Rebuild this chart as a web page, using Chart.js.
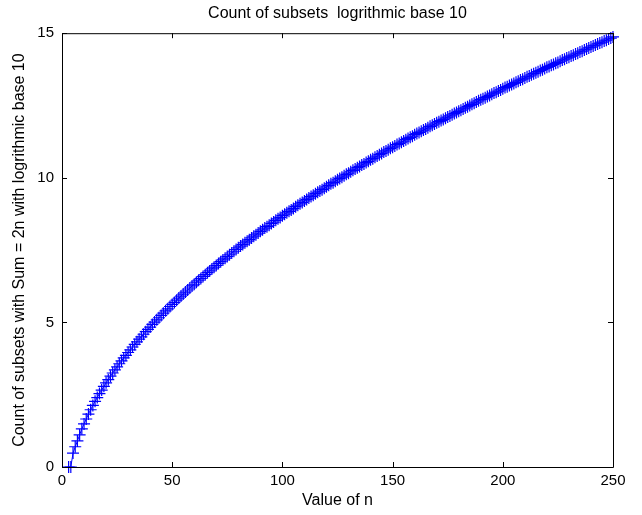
<!DOCTYPE html>
<html lang="en">
<head>
  <meta charset="UTF-8">
  <title>Count of subsets</title>
  <script src="https://cdn.jsdelivr.net/npm/chart.js"></script>
  <style>
    html, body { margin: 0; padding: 0; background: #fff; }
    #chart { display: block; }
  </style>
</head>
<body>
  <canvas id="chart" width="642" height="515"></canvas>

  <script>
    // first n that has at least one subset (log10 of 0 is not plotted)
    const firstN = 3;

    // log10 of the number of subsets of {1..n} with sum 2n, n = 3..250
    const countLog10 = [
      0, 0, 0.48, 0.70, 0.90, 1.11, 1.32, 1.49,
      1.66, 1.83, 1.98, 2.13, 2.27, 2.40, 2.54, 2.66, 2.79, 2.91,
      3.02, 3.14, 3.25, 3.36, 3.46, 3.57, 3.67, 3.77, 3.86, 3.96,
      4.05, 4.15, 4.24, 4.33, 4.42, 4.50, 4.59, 4.68, 4.76, 4.84,
      4.93, 5.01, 5.09, 5.16, 5.24, 5.32, 5.40, 5.47, 5.55, 5.62,
      5.69, 5.77, 5.84, 5.91, 5.98, 6.05, 6.12, 6.19, 6.26, 6.32,
      6.39, 6.46, 6.52, 6.59, 6.65, 6.72, 6.78, 6.85, 6.91, 6.97,
      7.04, 7.10, 7.16, 7.22, 7.28, 7.34, 7.40, 7.46, 7.52, 7.58,
      7.64, 7.69, 7.75, 7.81, 7.86, 7.92, 7.98, 8.03, 8.09, 8.15,
      8.20, 8.26, 8.31, 8.36, 8.42, 8.47, 8.53, 8.58, 8.63, 8.69,
      8.74, 8.79, 8.84, 8.89, 8.94, 9.00, 9.05, 9.10, 9.15, 9.20,
      9.25, 9.30, 9.35, 9.40, 9.45, 9.50, 9.54, 9.59, 9.64, 9.69,
      9.74, 9.79, 9.83, 9.88, 9.93, 9.98, 10.02, 10.07, 10.12, 10.16,
      10.21, 10.26, 10.30, 10.35, 10.39, 10.44, 10.48, 10.53, 10.57, 10.62,
      10.66, 10.71, 10.75, 10.80, 10.84, 10.89, 10.93, 10.97, 11.02, 11.06,
      11.10, 11.15, 11.19, 11.23, 11.27, 11.32, 11.36, 11.40, 11.44, 11.49,
      11.53, 11.57, 11.61, 11.65, 11.69, 11.73, 11.78, 11.82, 11.86, 11.90,
      11.94, 11.98, 12.02, 12.06, 12.10, 12.14, 12.18, 12.22, 12.26, 12.30,
      12.34, 12.38, 12.42, 12.46, 12.50, 12.54, 12.58, 12.62, 12.66, 12.70,
      12.73, 12.77, 12.81, 12.85, 12.89, 12.93, 12.96, 13.00, 13.04, 13.08,
      13.12, 13.15, 13.19, 13.23, 13.26, 13.30, 13.34, 13.38, 13.41, 13.45,
      13.49, 13.52, 13.56, 13.60, 13.63, 13.67, 13.71, 13.74, 13.78, 13.82,
      13.85, 13.89, 13.92, 13.96, 13.99, 14.03, 14.07, 14.10, 14.14, 14.17,
      14.21, 14.24, 14.28, 14.31, 14.35, 14.38, 14.42, 14.45, 14.49, 14.52,
      14.56, 14.59, 14.63, 14.66, 14.69, 14.73, 14.76, 14.80, 14.83, 14.87
    ];

    const xTicks = [0, 50, 100, 150, 200, 250];
    const yTicks = [0, 5, 10, 15];

    const points = countLog10.map((v, i) => ({ x: firstN + i, y: v }));

    // matlab style box with ticks pointing inward
    const boxTicks = {
      id: 'boxTicks',
      afterDraw(chart) {
        const { ctx, chartArea: a, scales } = chart;
        const len = 5;
        ctx.save();
        ctx.strokeStyle = '#000';
        ctx.lineWidth = 1;
        ctx.beginPath();
        ctx.rect(a.left + 0.5, a.top + 0.5, a.right - a.left, a.bottom - a.top);
        xTicks.forEach(t => {
          const px = Math.round(scales.x.getPixelForValue(t)) + 0.5;
          ctx.moveTo(px, a.bottom); ctx.lineTo(px, a.bottom - len);
          ctx.moveTo(px, a.top); ctx.lineTo(px, a.top + len);
        });
        yTicks.forEach(t => {
          const py = Math.round(scales.y.getPixelForValue(t)) + 0.5;
          ctx.moveTo(a.left, py); ctx.lineTo(a.left + len, py);
          ctx.moveTo(a.right, py); ctx.lineTo(a.right - len, py);
        });
        ctx.stroke();
        ctx.restore();
      }
    };

    const font = { family: "'Liberation Sans', Arial, sans-serif", size: 16, weight: 'normal' };
    const tickFont = { family: "'Liberation Sans', Arial, sans-serif", size: 15 };

    new Chart(document.getElementById('chart').getContext('2d'), {
      type: 'line',
      data: {
        datasets: [{
          data: points,
          borderColor: '#0000ff',
          borderWidth: 1,
          pointStyle: 'cross',
          pointRadius: 6,
          pointBorderColor: '#0000ff',
          pointBorderWidth: 1.2,
          clip: false,
          tension: 0
        }]
      },
      options: {
        responsive: false,
        animation: false,
        events: [],
        layout: { padding: { left: 0, right: 29, top: 0, bottom: 0 } },
        plugins: {
          legend: { display: false },
          tooltip: { enabled: false },
          title: {
            display: true,
            text: 'Count of subsets  logrithmic base 10',
            color: '#000',
            font: font,
            fullSize: false,
            padding: { top: 4, bottom: 10 }
          }
        },
        scales: {
          x: {
            type: 'linear',
            min: 0,
            max: 250,
            afterBuildTicks: s => { s.ticks = xTicks.map(v => ({ value: v })); },
            afterFit: s => { s.height = 48; },
            grid: { display: false, drawTicks: false },
            border: { display: false },
            ticks: { color: '#000', font: tickFont, padding: 5, maxRotation: 0 },
            title: { display: true, text: 'Value of n', color: '#000', font: font, padding: { top: 0, bottom: 5 } }
          },
          y: {
            type: 'linear',
            min: 0,
            max: 15,
            afterBuildTicks: s => { s.ticks = yTicks.map(v => ({ value: v })); },
            afterFit: s => { s.width = 62; },
            grid: { display: false, drawTicks: false },
            border: { display: false },
            ticks: { color: '#000', font: tickFont, padding: 8 },
            title: { display: true, text: 'Count of subsets with Sum = 2n with logrithmic base 10', color: '#000', font: font, padding: { top: 10, bottom: 0 } }
          }
        }
      },
      plugins: [boxTicks]
    });
  </script>
</body>
</html>
